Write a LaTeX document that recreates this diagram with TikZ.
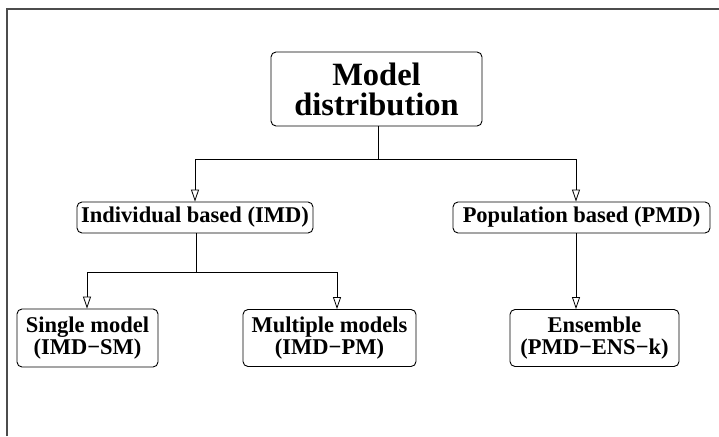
\documentclass[tikz,border=0pt]{standalone}
\usepackage{fontspec}
\setmainfont{Liberation Serif}
\usetikzlibrary{arrows.meta}
\begin{document}
\begin{tikzpicture}[x=1pt,y=-1pt,
  box/.style={draw, line width=0.9pt, rounded corners=5pt, align=center, inner sep=0pt,
    font=\fontsize{22.5}{21.5}\selectfont\bfseries},
  bigbox/.style={box, font=\fontsize{32.5}{30}\selectfont\bfseries},
  conn/.style={line width=0.8pt},
  arr/.style={conn, -{Triangle[open,length=12pt,width=8pt,line width=0.8pt]}},
  frame/.style={line width=1.3pt, draw=black!70}]
\useasboundingbox (0,0) rectangle (719,436);
\draw[frame] (7,436) -- (7,9) -- (719,9);
\node[bigbox, minimum width=211pt, minimum height=74pt] (md) at (376.5,89) {Model\\distribution};
\node[box, minimum width=236pt, minimum height=31pt] (imd) at (195,217.5) {Individual based (IMD)};
\node[box, minimum width=257pt, minimum height=31pt] (pmd) at (581.5,217.5) {Population based (PMD)};
\node[box, minimum width=141pt, minimum height=58pt] (sm) at (87.5,338) {Single model\\(IMD−SM)};
\node[box, minimum width=173pt, minimum height=57pt] (mm) at (329.5,338) {Multiple models\\(IMD−PM)};
\node[box, minimum width=169pt, minimum height=57pt] (ens) at (594.5,338) {Ensemble\\(PMD−ENS−k)};
\draw[conn] ([xshift=1.5pt]md.south) -- ++(0,33) coordinate (j1);
\draw[arr] (j1) -| (imd.north);
\draw[arr] (j1) -| ([xshift=-5.5pt]pmd.north);
\draw[conn] ([xshift=1pt]imd.south) -- ++(0,39) coordinate (j2);
\draw[arr] (j2) -| ([xshift=-0.5pt]sm.north);
\draw[arr] (j2) -| ([xshift=7.5pt]mm.north);
\draw[arr] ([xshift=-5.5pt]pmd.south) -- ([xshift=-5.5pt]pmd.south |- ens.north);
\end{tikzpicture}
\end{document}
